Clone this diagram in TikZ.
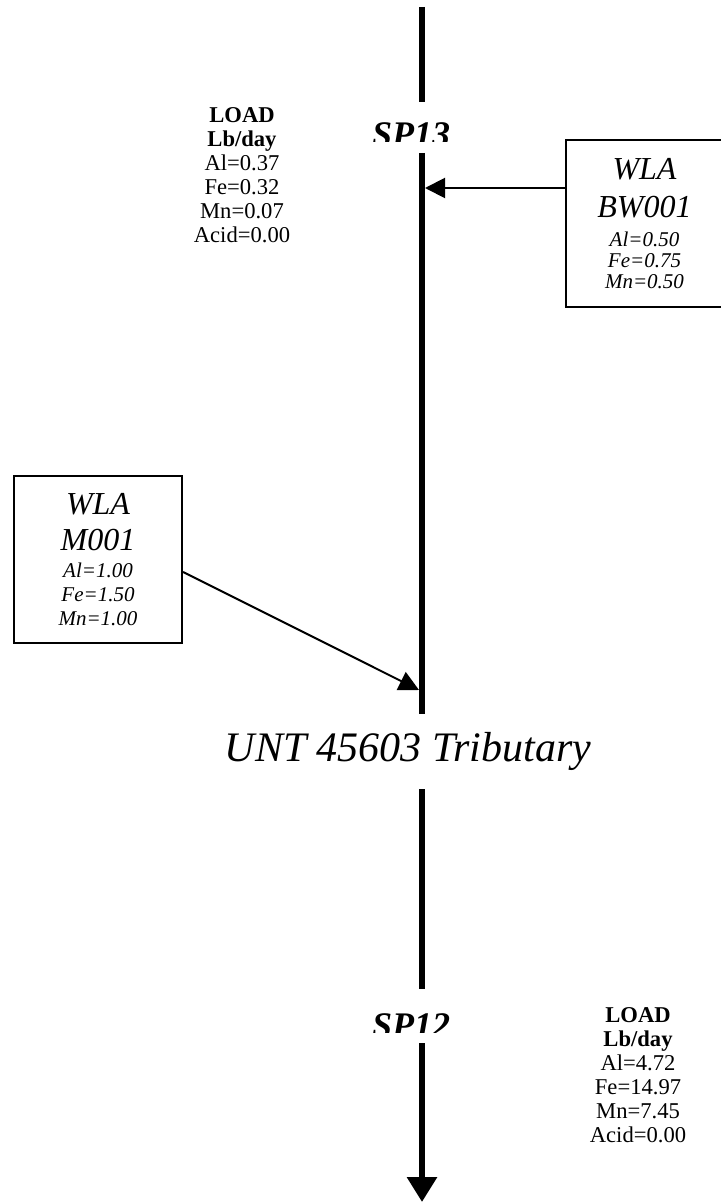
\documentclass[tikz,border=0pt]{standalone}
\usepackage{fontspec}
\setmainfont{Liberation Serif}
\usetikzlibrary{arrows.meta}
\newcommand\wlahead{\fontsize{16}{18}\selectfont}

\begin{document}
\begin{tikzpicture}[x=.5pt,y=-.5pt,line width=1pt,
  wla/.style={draw,line width=1.1pt,align=center,inner sep=0pt,font=\itshape\fontsize{10.5}{#1}\selectfont},
  load/.style={align=center,inner sep=0pt,anchor=north,font=\fontsize{11.3}{12}\selectfont},
  sp/.style={inner sep=0pt,fill=white,minimum width=50pt,path picture={
    \clip (path picture bounding box.north west) rectangle ([yshift=5pt]path picture bounding box.south east);
    \node[anchor=base,inner sep=0pt,font=\fontsize{18}{18}\selectfont\bfseries\itshape]
      at ([xshift=-5.5pt,yshift=2.5pt]path picture bounding box.south) {#1};}},
  river/.style={line width=3pt},
  inflow/.style={-{Triangle[width=10pt,length=10pt]}}]
\useasboundingbox (0,0) rectangle (721,1203);
\coordinate (top) at (422,7);\coordinate (end) at (422,1202);
\node[sp=SP13,minimum height=24.5pt] (sp13) at (422,127.5) {};
\node[sp=SP12,minimum height=26pt] (sp12) at (422,1016) {};
\node[inner sep=0pt,minimum height=36.5pt,font=\fontsize{21}{21}\selectfont\itshape] (trib) at (408,751.5) {UNT 45603 Tributary};
\draw[river] (top)--(sp13.north);
\draw[river] (sp13.south)--(sp13.south |- trib.north);
\draw[river] (sp13.south |- trib.south)--(sp12.north);
\draw[river,-{Triangle[width=14.5pt,length=12.5pt]}] (sp12.south)--(end);
\node[load] (loadA) at (242,107) {\textbf{LOAD}\\\textbf{Lb/day}\\Al=0.37\\Fe=0.32\\Mn=0.07\\Acid=0.00};
\node[load] (loadB) at (638,1007) {\textbf{LOAD}\\\textbf{Lb/day}\\Al=4.72\\Fe=14.97\\Mn=7.45\\Acid=0.00};
\node[wla=10.5pt,minimum width=78.5pt,minimum height=83.5pt] (bw001) at (644.5,223.5)
  {{\wlahead WLA}\\[7.5pt]{\wlahead BW001}\\[4pt]Al=0.50\\Fe=0.75\\Mn=0.50};
\node[wla=12pt,minimum width=84pt,minimum height=83.5pt] (m001) at (98,559.5)
  {{\wlahead WLA}\\[6pt]{\wlahead M001}\\[1.5pt]Al=1.00\\Fe=1.50\\Mn=1.00};
\coordinate (inB) at (425,188);\coordinate (inM) at (419,690);
\draw[inflow] ([yshift=17.75pt]bw001.west)--(inB);
\draw[inflow] ([yshift=-6.25pt]m001.east)--(inM);
\end{tikzpicture}
\end{document}
